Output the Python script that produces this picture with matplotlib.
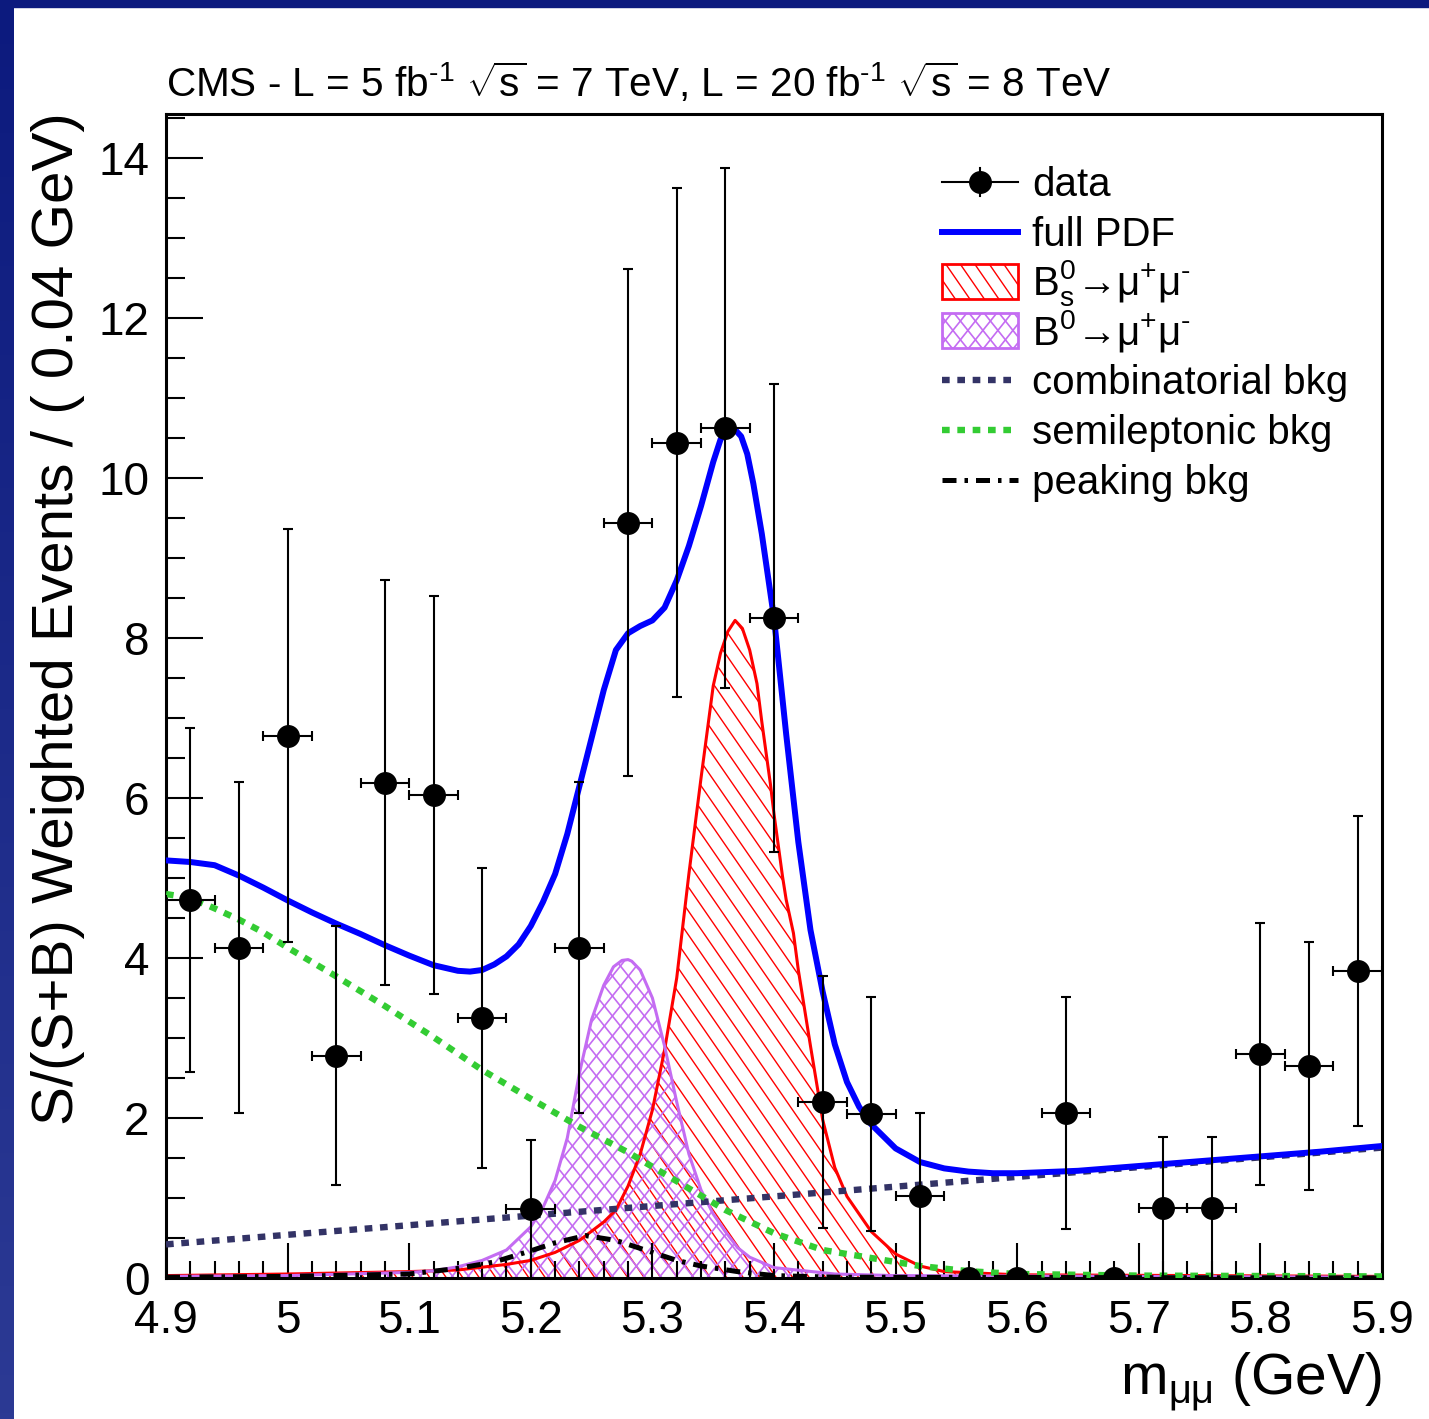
import numpy as np
import matplotlib
matplotlib.use("Agg")
import matplotlib.pyplot as plt
from matplotlib.patches import Rectangle
from matplotlib.lines import Line2D
from matplotlib.collections import LineCollection
from matplotlib.ticker import FixedLocator, MultipleLocator

plt.rcParams["font.family"] = ["Liberation Sans", "DejaVu Sans"]
plt.rcParams["mathtext.fontset"] = "custom"
plt.rcParams["mathtext.rm"] = "Liberation Sans"
plt.rcParams["mathtext.it"] = "Liberation Sans:italic"
plt.rcParams["mathtext.bf"] = "Liberation Sans:bold"

# binned data (weighted events per 0.04 GeV)
mass = [4.92, 4.96, 5.00, 5.04, 5.08, 5.12, 5.16, 5.20, 5.24, 5.28, 5.32, 5.36, 5.40,
        5.44, 5.48, 5.52, 5.56, 5.60, 5.64, 5.68, 5.72, 5.76, 5.80, 5.84, 5.88]
events = [4.73, 4.13, 6.78, 2.78, 6.19, 6.04, 3.25, 0.86, 4.13, 9.44, 10.44, 10.63, 8.25,
          2.20, 2.05, 1.03, 0.0, 0.0, 2.06, 0.0, 0.88, 0.88, 2.80, 2.65, 3.84]
events_err = [2.15, 2.07, 2.58, 1.62, 2.53, 2.49, 1.87, 0.87, 2.07, 3.17, 3.18, 3.25, 2.93,
              1.57, 1.46, 1.03, 0.0, 0.0, 1.45, 0.0, 0.88, 0.88, 1.64, 1.55, 1.94]

# full PDF
pdf_x = [4.90, 4.92, 4.94, 4.96, 4.98, 5.00, 5.02, 5.04, 5.06, 5.08, 5.10, 5.12, 5.14,
         5.15, 5.16, 5.17, 5.18, 5.19, 5.20, 5.21, 5.22, 5.23, 5.24, 5.25, 5.26, 5.27,
         5.28, 5.29, 5.30, 5.31, 5.32, 5.33, 5.34, 5.35, 5.356, 5.362, 5.367, 5.373,
         5.378, 5.383, 5.39, 5.40, 5.41, 5.42, 5.43, 5.44, 5.45, 5.46, 5.47, 5.48, 5.50,
         5.52, 5.54, 5.56, 5.58, 5.60, 5.65, 5.70, 5.75, 5.80, 5.85, 5.90]
pdf_y = [5.22, 5.20, 5.16, 5.03, 4.88, 4.72, 4.57, 4.43, 4.30, 4.16, 4.03, 3.91, 3.84,
         3.83, 3.85, 3.92, 4.02, 4.17, 4.40, 4.70, 5.05, 5.55, 6.15, 6.75, 7.35, 7.85,
         8.06, 8.15, 8.22, 8.38, 8.72, 9.15, 9.65, 10.20, 10.48, 10.61, 10.62, 10.52,
         10.30, 9.93, 9.30, 8.25, 6.80, 5.45, 4.35, 3.58, 2.92, 2.45, 2.14, 1.92, 1.62,
         1.45, 1.37, 1.33, 1.31, 1.31, 1.34, 1.40, 1.46, 1.52, 1.58, 1.65]

# Bs -> mu mu
bs_x = [4.90, 5.00, 5.10, 5.14, 5.18, 5.20, 5.22, 5.24, 5.26, 5.27, 5.28, 5.29, 5.30,
        5.31, 5.32, 5.33, 5.34, 5.35, 5.356, 5.362, 5.368, 5.374, 5.38, 5.386, 5.39,
        5.397, 5.40, 5.407, 5.41, 5.416, 5.42, 5.43, 5.44, 5.45, 5.46, 5.48, 5.50,
        5.52, 5.54, 5.60, 5.90]
bs_y = [0.03, 0.05, 0.08, 0.10, 0.17, 0.22, 0.32, 0.47, 0.70, 0.85, 1.15, 1.55, 2.10,
        2.85, 3.75, 5.05, 6.25, 7.40, 7.81, 8.08, 8.22, 8.12, 7.85, 7.43, 6.95,
        6.18, 5.80, 5.02, 4.73, 4.31, 3.85, 2.90, 1.98, 1.38, 1.02, 0.58, 0.30,
        0.15, 0.08, 0.04, 0.02]

# B0 -> mu mu
bd_x = [4.90, 5.00, 5.10, 5.12, 5.14, 5.16, 5.18, 5.20, 5.21, 5.22, 5.23, 5.24, 5.25,
        5.26, 5.268, 5.275, 5.28, 5.283, 5.29, 5.30, 5.31, 5.32, 5.33, 5.34, 5.35, 5.36,
        5.37, 5.38, 5.40, 5.45, 5.50, 5.90]
bd_y = [0.02, 0.03, 0.07, 0.09, 0.14, 0.22, 0.35, 0.64, 0.88, 1.22, 1.75, 2.56, 3.23,
        3.66, 3.89, 3.97, 3.98, 3.96, 3.85, 3.50, 2.90, 2.20, 1.55, 1.10, 0.80, 0.58,
        0.38, 0.26, 0.13, 0.05, 0.03, 0.01]

# combinatorial background
comb_x = [4.90, 5.40, 5.90]
comb_y = [0.42, 1.02, 1.63]

# semileptonic background
semi_x = [4.90, 4.92, 4.94, 4.96, 4.98, 5.00, 5.04, 5.08, 5.12, 5.16, 5.20, 5.24, 5.28,
          5.32, 5.36, 5.40, 5.44, 5.48, 5.52, 5.56, 5.60, 5.70, 5.90]
semi_y = [4.80, 4.75, 4.62, 4.48, 4.32, 4.13, 3.77, 3.40, 3.01, 2.60, 2.24, 1.89, 1.57,
          1.21, 0.85, 0.56, 0.35, 0.25, 0.15, 0.085, 0.05, 0.03, 0.02]

# peaking background
peak_x = [4.90, 5.00, 5.10, 5.14, 5.17, 5.20, 5.22, 5.245, 5.27, 5.29, 5.32, 5.34, 5.37,
          5.40, 5.45, 5.90]
peak_y = [0.01, 0.02, 0.05, 0.12, 0.20, 0.34, 0.44, 0.53, 0.47, 0.37, 0.22, 0.15, 0.08,
          0.03, 0.01, 0.0]

x_ticks = [4.9, 5.0, 5.1, 5.2, 5.3, 5.4, 5.5, 5.6, 5.7, 5.8, 5.9]
x_tick_labels = ["4.9", "5", "5.1", "5.2", "5.3", "5.4", "5.5", "5.6", "5.7", "5.8", "5.9"]
y_ticks = [0, 2, 4, 6, 8, 10, 12, 14]

legend_labels = [
    "data",
    "full PDF",
    "B$^{0}_{\\mathrm{s}}$\u2192\u03bc$^{+}$\u03bc$^{\\mathrm{\u2010}}$",
    "B$^{0}$\u2192\u03bc$^{+}$\u03bc$^{\\mathrm{\u2010}}$",
    "combinatorial bkg",
    "semileptonic bkg",
    "peaking bkg",
]

BLUE = "#0000ff"
RED = "#ff0000"
VIOLET = "#c46cf2"
COMB = "#333366"
GREEN = "#33cc33"
DOT = dict(dashes=(1.2, 1.2), dash_capstyle="butt")
DASHDOT = dict(dashes=(2.8, 1.6, 0.7, 1.6), dash_capstyle="butt")

W, H = 1429, 1419
AX_W, AX_H = 1216, 1164  # axes size in pixels


def hatch_lines(ax, slopes, spacing, color, lw, zorder, clip_path, clip_trans=None):
    """ROOT-like hatching: straight lines in axes pixel space, clipped to a shape."""
    segs = []
    for s in slopes:
        run = AX_H / abs(s)
        for c in np.arange(-run, AX_W + spacing, spacing):
            if s < 0:
                segs.append([(c / AX_W, 1.0), ((c + run) / AX_W, 0.0)])
            else:
                segs.append([(c / AX_W, 0.0), ((c + run) / AX_W, 1.0)])
    lc = LineCollection(segs, colors=color, linewidths=lw, transform=ax.transAxes,
                        zorder=zorder)
    ax.add_collection(lc, autolim=False)
    if clip_trans is None:
        lc.set_clip_path(clip_path)
    else:
        lc.set_clip_path(clip_path, clip_trans)
    return lc


fig = plt.figure(figsize=(W / 100, H / 100), dpi=100)
fig.patch.set_facecolor("white")

# slide frame: top bar and left gradient bar
fig.add_artist(Rectangle((0, 1 - 7 / H), 1, 7 / H, transform=fig.transFigure,
                         color="#0c1a7e", zorder=0))
bar = fig.add_axes([0, 0, 13 / W, 1])
grad = np.linspace(0, 1, 256)[:, None]
top_c = np.array([12, 26, 126]) / 255
bot_c = np.array([44, 58, 148]) / 255
bar.imshow(top_c + grad[:, :, None] * (bot_c - top_c), aspect="auto")
bar.set_axis_off()

ax = fig.add_axes([166 / W, 141 / H, AX_W / W, AX_H / H])
ax.set_xlim(4.9, 5.9)
ax.set_ylim(0, 14.55)

# signal components (hatched)
bs_fill = ax.fill_between(bs_x, bs_y, 0, facecolor="none", edgecolor="none")
bd_fill = ax.fill_between(bd_x, bd_y, 0, facecolor="none", edgecolor="none")
hatch_lines(ax, [-1.45], 16.5, RED, 1.0, 1, bs_fill.get_paths()[0], ax.transData)
hatch_lines(ax, [-1.25, 1.25], 16, VIOLET, 1.2, 1.1, bd_fill.get_paths()[0],
            ax.transData)
ax.plot(bs_x, bs_y, color=RED, lw=2.2, zorder=2)
ax.plot(bd_x, bd_y, color=VIOLET, lw=2.2, zorder=2)

# backgrounds
ax.plot(comb_x, comb_y, color=COMB, lw=4.6, zorder=3, **DOT)
ax.plot(semi_x, semi_y, color=GREEN, lw=4.6, zorder=3, **DOT)
ax.plot(peak_x, peak_y, color="black", lw=3.6, zorder=3.2, **DASHDOT)

# full PDF
ax.plot(pdf_x, pdf_y, color=BLUE, lw=4.3, zorder=4)

# data
xerr = np.where(np.array(events) > 0, 0.02, 0.0)
ax.errorbar(mass, events, yerr=events_err, xerr=xerr, fmt="o", color="black",
            ms=15.5, elinewidth=1.5, capsize=3.8, capthick=1.5, zorder=5)

ax.xaxis.set_major_locator(FixedLocator(x_ticks))
ax.set_xticklabels(x_tick_labels)
ax.xaxis.set_minor_locator(MultipleLocator(0.02))
ax.yaxis.set_major_locator(FixedLocator(y_ticks))
ax.yaxis.set_minor_locator(MultipleLocator(0.5))
ax.tick_params(which="both", direction="in", top=False, right=False, width=1.5,
               labelsize=33)
ax.tick_params(axis="y", which="major", length=26.5, pad=12)
ax.tick_params(axis="y", which="minor", length=13.5)
ax.tick_params(axis="x", which="major", length=25, pad=15)
ax.tick_params(axis="x", which="minor", length=12.5)
for sp in ax.spines.values():
    sp.set_linewidth(2.2)

ax.set_ylabel("S/(S+B) Weighted Events / ( 0.04 GeV)", fontsize=42,
              rotation_mode="default", ha="center", va="top")
ax.yaxis.set_label_coords(-0.0888, 1.0017)
ax.text(1.0, -0.1005, r"m$_{\mathrm{\mu\mu}}$ (GeV)", transform=ax.transAxes,
        ha="right", va="baseline", fontsize=41)

ax.text(0.0, 1.0146,
        "CMS - L = 5 fb$^{\\mathrm{\u2010}1}$ $\\sqrt{\\mathrm{s}}$ = 7 TeV, "
        "L = 20 fb$^{\\mathrm{\u2010}1}$ $\\sqrt{\\mathrm{s}}$ = 8 TeV",
        transform=ax.transAxes, ha="left", va="baseline", fontsize=29.2)

# legend, drawn row by row in axes coordinates
x0, x1, xt = 0.638, 0.7007, 0.712
row_h = 49.6 / AX_H
y_first = (1278 - 182) / AX_H
base_off = 14 / AX_H
box_h = 35 / AX_H
leg = dict(transform=ax.transAxes, clip_on=False, zorder=6)
rows = [y_first - i * row_h for i in range(len(legend_labels))]

y = rows[0]
ax.add_line(Line2D([x0, x1], [y, y], color="black", lw=1.5, **leg))
ax.add_line(Line2D([(x0 + x1) / 2] * 2, [y - 14 / AX_H, y + 14 / AX_H], color="black",
                   lw=1.5, **leg))
ax.add_line(Line2D([(x0 + x1) / 2], [y], marker="o", ms=15.5, color="black", **leg))
ax.add_line(Line2D([x0, x1], [rows[1]] * 2, color=BLUE, lw=4.3, **leg))
bs_box = Rectangle((x0, rows[2] - box_h / 2), x1 - x0, box_h, facecolor="none",
                   edgecolor=RED, lw=2, **leg)
bd_box = Rectangle((x0, rows[3] - box_h / 2), x1 - x0, box_h, facecolor="none",
                   edgecolor=VIOLET, lw=2, **leg)
ax.add_patch(bs_box)
ax.add_patch(bd_box)
hatch_lines(ax, [-1.45], 14.5, RED, 1.0, 6, bs_box)
hatch_lines(ax, [-1.25, 1.25], 15, VIOLET, 1.2, 6, bd_box)
ax.add_line(Line2D([x0, x1], [rows[4]] * 2, color=COMB, lw=4.6, **DOT, **leg))
ax.add_line(Line2D([x0, x1], [rows[5]] * 2, color=GREEN, lw=4.6, **DOT, **leg))
ax.add_line(Line2D([x0, x1], [rows[6]] * 2, color="black", lw=3.6, **DASHDOT, **leg))

for y, lab in zip(rows, legend_labels):
    ax.text(xt, y - base_off, lab, transform=ax.transAxes, ha="left", va="baseline",
            fontsize=29, zorder=6)

fig.savefig("out.png", dpi=100)
